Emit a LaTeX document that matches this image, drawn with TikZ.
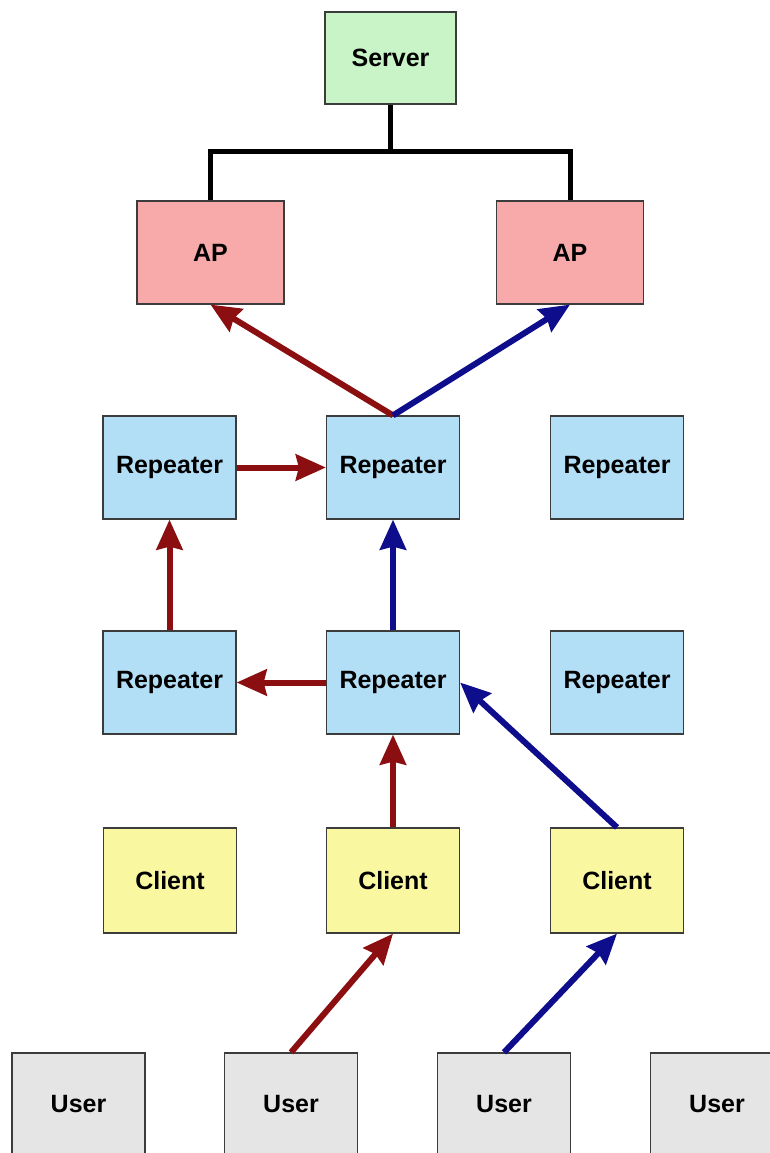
\documentclass[tikz,border=0pt]{standalone}
\usepackage{fontspec}
\setmainfont{Liberation Sans}
\usetikzlibrary{arrows.meta,calc}
\definecolor{arrred}{RGB}{139,14,16}
\definecolor{arrblue}{RGB}{14,14,140}
\definecolor{srvfill}{RGB}{200,244,200}
\definecolor{apfill}{RGB}{248,170,170}
\definecolor{repfill}{RGB}{178,222,246}
\definecolor{clifill}{RGB}{249,247,160}
\definecolor{usrfill}{RGB}{229,229,229}
\definecolor{edge}{RGB}{60,60,60}
\tikzset{
  box/.style={draw=edge, line width=1.2pt, minimum height=103pt, minimum width=133pt,
    inner sep=0pt, font=\fontsize{25}{30}\selectfont\bfseries, text=black},
  srvbox/.style={box, fill=srvfill, minimum width=131pt, minimum height=92pt},
  apbox/.style={box, fill=apfill, minimum width=147pt},
  repbox/.style={box, fill=repfill},
  clibox/.style={box, fill=clifill, minimum height=105pt},
  usrbox/.style={box, fill=usrfill},
  wire/.style={line width=5pt, black},
  redarr/.style={line width=6pt, arrred, -{Stealth[length=30pt,width=26pt,inset=3pt]}},
  bluearr/.style={line width=6pt, arrblue, -{Stealth[length=30pt,width=26pt,inset=3pt]}}
}
\begin{document}
\begin{tikzpicture}[x=1pt,y=-1pt]
\fill[white] (0,0) rectangle (769,1153);
\useasboundingbox (0,0) rectangle (769,1153);

\node[srvbox] (srv) at (390.5,58) {Server};
\node[apbox] (apl) at (210.5,252.5) {AP};
\node[apbox] (apr) at (570,252.5) {AP};

\node[repbox] (r1l) at (169.5,467.5) {Repeater};
\node[repbox] (r1m) at (393,467.5) {Repeater};
\node[repbox] (r1r) at (617,467.5) {Repeater};

\node[repbox] (r2l) at (169.5,682.5) {Repeater};
\node[repbox] (r2m) at (393,682.5) {Repeater};
\node[repbox] (r2r) at (617,682.5) {Repeater};

\node[clibox] (c1) at (170,880.5) {Client};
\node[clibox] (c2) at (393,880.5) {Client};
\node[clibox] (c3) at (617,880.5) {Client};

\node[usrbox] (u1) at (78.5,1104.5) {User};
\node[usrbox] (u2) at (291,1104.5) {User};
\node[usrbox] (u3) at (504,1104.5) {User};
\node[usrbox] (u4) at (717,1104.5) {User};

% wired connection
\coordinate (junc) at ($(srv.south)+(0,47)$);
\draw[wire] (srv.south) -- (junc);
\draw[wire] (apl.north) |- (junc) -| (apr.north);

% red path
\draw[redarr] (r1m.north) -- (apl.south);
\draw[redarr] (r1l.east) -- (r1m.west);
\draw[redarr] (r2l.north) -- (r1l.south);
\draw[redarr] (r2m.west) -- (r2l.east);
\draw[redarr] (c2.north) -- (r2m.south);
\draw[redarr] (u2.north) -- (c2.south);

% blue path
\draw[bluearr] (r1m.north) -- (apr.south);
\draw[bluearr] (r2m.north) -- (r1m.south);
\draw[bluearr] (c3.north) -- (r2m.east);
\draw[bluearr] (u3.north) -- (c3.south);
\end{tikzpicture}
\end{document}
